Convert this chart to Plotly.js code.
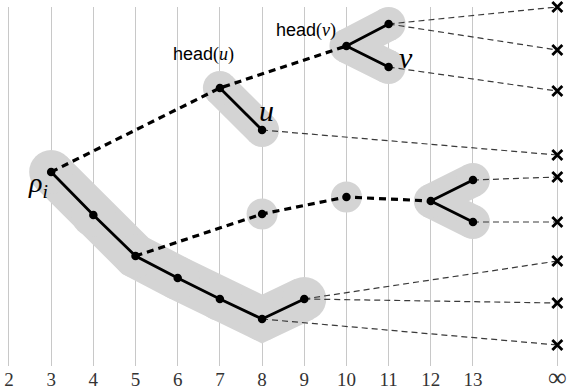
<!DOCTYPE html>
<html>
<head>
<meta charset="utf-8">
<script src="https://cdn.plot.ly/plotly-3.0.1.min.js"></script>
<style>html,body{margin:0;padding:0;background:#fff;}#chart{width:568px;height:391px;}</style>
</head>
<body>
<div id="chart"></div>
<script>
// ---- data (x = position on the axis, y = vertical slot in the diagram, top = small) ----
var tickVals = [2,3,4,5,6,7,8,9,10,11,12,13,15];
var tickText = ["2","3","4","5","6","7","8","9","10","11","12","13",'<span style="font-size:26px">∞</span>'];
var INF = 15;

var mainX = [3,4,5,6,7,8,9];
var mainY = [172,215,256,278,299,319,299];
var uX = [7,8];
var uY = [88,130];
var vX = [11,10,11];
var vY = [24,46,67];
var forkX = [13,12,13];
var forkY = [180,201,222];
var singleX = [8,10];
var singleY = [214,197];

var thickDash1X = [3,7,10];
var thickDash1Y = [172,88,46];
var thickDash2X = [5,8,10,12];
var thickDash2Y = [256,214,197,201];

var crossY = [7,50,91,155,177,222,261,303,345];
var leafX = [11,11,11,8,13,13,9,9,8];
var leafY = [24,24,67,130,180,222,299,299,319];

// ---- build traces ----
var gray = 'rgb(212,212,212)';
function blob(x, y, w) {
  return {x: x, y: y, type: 'scatter', mode: 'lines+markers', hoverinfo: 'skip',
    line: {color: gray, width: w}, marker: {color: gray, size: w}, cliponaxis: false};
}
var traces = [];
traces.push(blob(mainX, mainY, 44));
traces.push(blob(uX, uY, 34));
traces.push(blob(vX, vY, 34));
traces.push(blob(forkX, forkY, 34));
traces.push({x: singleX, y: singleY, type: 'scatter', mode: 'markers', hoverinfo: 'skip',
  marker: {color: gray, size: 31}});

// thin dashed leaves
var tdx = [], tdy = [];
for (var i = 0; i < crossY.length; i++) {
  tdx.push(leafX[i], INF, null);
  tdy.push(leafY[i], crossY[i], null);
}
traces.push({x: tdx, y: tdy, type: 'scatter', mode: 'lines', hoverinfo: 'skip',
  line: {color: '#3a3a3a', width: 1.2, dash: '6px,4px'}, cliponaxis: false});

// thick dashed
[[thickDash1X, thickDash1Y], [thickDash2X, thickDash2Y]].forEach(function (p) {
  traces.push({x: p[0], y: p[1], type: 'scatter', mode: 'lines', hoverinfo: 'skip',
    line: {color: '#000', width: 3.2, dash: '7px,5px'}});
});

// solid chains
[[mainX, mainY], [uX, uY], [vX, vY], [forkX, forkY]].forEach(function (p) {
  traces.push({x: p[0], y: p[1], type: 'scatter', mode: 'lines+markers', hoverinfo: 'skip',
    line: {color: '#000', width: 2.8}, marker: {color: '#000', size: 8.5}});
});
traces.push({x: singleX, y: singleY, type: 'scatter', mode: 'markers', hoverinfo: 'skip',
  marker: {color: '#000', size: 8.5}});

// crosses at infinity
traces.push({x: crossY.map(function () { return INF; }), y: crossY, type: 'scatter', mode: 'markers',
  hoverinfo: 'skip', cliponaxis: false,
  marker: {symbol: 'x-thin', size: 10, color: '#000', line: {color: '#000', width: 2.8}}});

var serif = 'Liberation Serif';
var annotations = [
  {x: 7, y: 54, xanchor: 'center', yanchor: 'middle', xshift: -16,
   text: '<span style="font-family:Liberation Sans">head</span>(<i>u</i>)',
   font: {family: serif, size: 18, color: '#000'}},
  {x: 10, y: 30, xanchor: 'center', yanchor: 'middle', xshift: -40,
   text: '<span style="font-family:Liberation Sans">head</span>(<i>v</i>)',
   font: {family: serif, size: 18, color: '#000'}},
  {x: 8, y: 110, xanchor: 'center', yanchor: 'middle', xshift: 4,
   text: '<i>u</i>', font: {family: serif, size: 30, color: '#000'}},
  {x: 11, y: 57, xanchor: 'center', yanchor: 'middle', xshift: 17,
   text: '<i>v</i>', font: {family: serif, size: 30, color: '#000'}},
  {x: 3, y: 184, xanchor: 'center', yanchor: 'middle', xshift: -13,
   text: '<i>ρ</i><sub><i>i</i></sub>', font: {family: serif, size: 28, color: '#000'}}
].map(function (a) { a.xref = 'x'; a.yref = 'y'; a.showarrow = false; return a; });

var layout = {
  width: 568, height: 391,
  margin: {l: 0, r: 0, t: 7, b: 25, pad: 0},
  paper_bgcolor: '#fff', plot_bgcolor: '#fff',
  showlegend: false,
  xaxis: {range: [1.787, 15.253], tickmode: 'array', tickvals: tickVals, ticktext: tickText,
    showgrid: true, gridcolor: '#c8c8c8', gridwidth: 1, zeroline: false, showline: false,
    ticks: '', tickfont: {family: serif, size: 19, color: '#333'}, fixedrange: true},
  yaxis: {range: [366, 7], visible: false, showgrid: false, zeroline: false, fixedrange: true},
  annotations: annotations
};

Plotly.newPlot('chart', traces, layout, {staticPlot: true, displayModeBar: false});
</script>
</body>
</html>
